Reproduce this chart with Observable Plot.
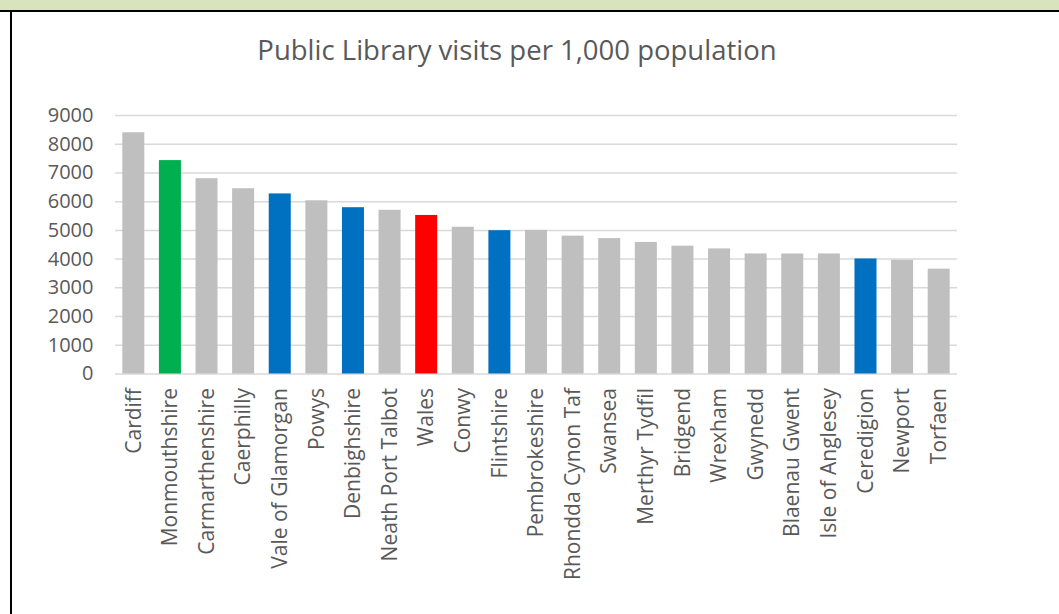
<!DOCTYPE html>
<html>
<head>
<meta charset="utf-8">
<script src="https://cdn.jsdelivr.net/npm/d3@7"></script>
<script src="https://cdn.jsdelivr.net/npm/@observablehq/plot@0.6"></script>
<style>
  html, body { margin: 0; padding: 0; background: #fff; }
  #wrap { position: relative; width: 1059px; height: 614px; overflow: hidden; font-family: "Open Sans", sans-serif; }
  #band { position: absolute; left: 0; top: 0; width: 1059px; height: 10px; background: #d8e4bc; }
  #topline { position: absolute; left: 0; top: 10px; width: 1059px; height: 2px; background: #000; }
  #leftline { position: absolute; left: 10px; top: 10px; width: 2px; height: 604px; background: #000; }
  #title { position: absolute; left: 0; top: 31px; width: 1034px; text-align: center; font-size: 27.5px; color: #595959; white-space: nowrap; }
  #chart { position: absolute; left: 0; top: 0; }
</style>
</head>
<body>
<div id="wrap">
  <div id="chart"></div>
  <div id="band"></div>
  <div id="topline"></div>
  <div id="leftline"></div>
  <div id="title">Public Library visits per 1,000 population</div>
</div>
<script>
const areas = ["Cardiff","Monmouthshire","Carmarthenshire","Caerphilly","Vale of Glamorgan","Powys","Denbighshire","Neath Port Talbot","Wales","Conwy","Flintshire","Pembrokeshire","Rhondda Cynon Taf","Swansea","Merthyr Tydfil","Bridgend","Wrexham","Gwynedd","Blaenau Gwent","Isle of Anglesey","Ceredigion","Newport","Torfaen"];
const visits = [8400,7430,6800,6450,6270,6030,5790,5700,5520,5110,4990,5000,4800,4715,4580,4450,4355,4180,4180,4180,4005,3960,3650];
const groups = ["other","top","other","other","highlight","other","highlight","other","wales","other","highlight","other","other","other","other","other","other","other","other","other","highlight","other","other"];
const yTicks = [0,1000,2000,3000,4000,5000,6000,7000,8000,9000];

const data = areas.map((a, i) => ({area: a, value: visits[i], group: groups[i]}));

const chart = Plot.plot({
  width: 1059,
  height: 614,
  marginLeft: 115,
  marginRight: 102,
  marginTop: 115,
  marginBottom: 240.5,
  style: {fontFamily: "'Open Sans', sans-serif", fontSize: "20px", color: "#595959", background: "transparent", overflow: "visible"},
  x: {domain: areas, padding: 0, round: false, label: null},
  y: {domain: [0, 9000], label: null},
  color: {domain: ["other","top","highlight","wales"], range: ["#bfbfbf","#00b050","#0070c0","#ff0000"]},
  marks: [
    Plot.gridY(yTicks, {stroke: "#d9d9d9", strokeOpacity: 1, strokeWidth: 1.5}),
    Plot.barY(data, {x: "area", y: "value", fill: "group", insetLeft: 7.3, insetRight: 7.3}),
    Plot.axisY(yTicks, {tickSize: 0, tickPadding: 22, tickFormat: d => String(d), fill: "#595959", fontSize: 20}),
    Plot.axisX({tickSize: 0, tickPadding: 14, tickRotate: -90, fill: "#595959", fontSize: 21})
  ]
});
document.getElementById("chart").appendChild(chart);
</script>
</body>
</html>
